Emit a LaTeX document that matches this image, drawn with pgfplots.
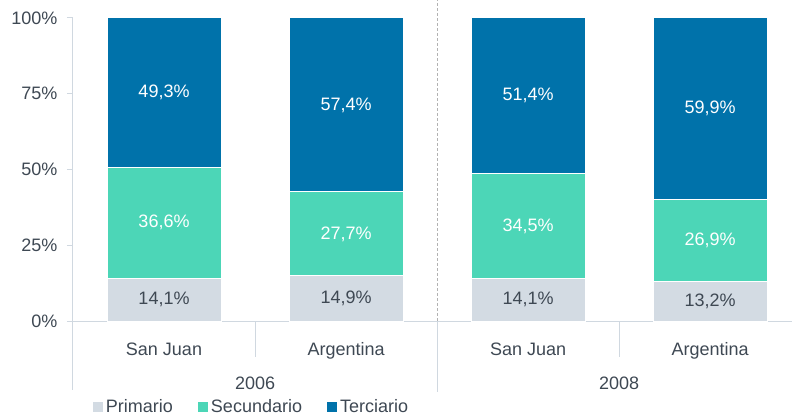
\documentclass[border=0pt]{standalone}
\usepackage{pgfplots}
\pgfplotsset{compat=1.18}
\usepackage{fontspec}
\setmainfont{Liberation Sans}
\definecolor{prim}{HTML}{D3DBE3}
\definecolor{secu}{HTML}{4CD6B7}
\definecolor{terc}{HTML}{0072AA}
\definecolor{txt}{HTML}{3E4853}
\definecolor{axl}{HTML}{D0D8E0}
\newcommand{\lf}{\fontsize{18}{20}\selectfont}
\begin{document}
\begin{tikzpicture}
\begin{axis}[
  at={(73pt,94pt)}, anchor=south west,
  scale only axis, width=719pt, height=303pt,
  xmin=-0.5, xmax=3.45, ymin=0, ymax=100,
  ybar stacked, bar width=114pt,
  axis x line=bottom, axis y line=left,
  axis line style={axl, line width=1pt, -},
  xtick={0,1,2,3}, xticklabels={San Juan,Argentina,San Juan,Argentina},
  ytick={0,25,50,75,100},
  yticklabels={0\%,25\%,50\%,75\%,100\%},
  x tick style={draw=none},
  y tick style={axl, line width=1pt},
  major tick length=6pt,
  tick align=outside,
  ticklabel style={font=\lf, text=txt},
  xticklabel style={anchor=base, yshift=-28pt},
  yticklabel style={xshift=-6pt},
  clip=false,
  legend columns=3,
  legend style={at={(0.2476,-0.284)}, anchor=center, draw=none, fill=none,
    font=\lf, text=txt,
    /tikz/every even column/.append style={column sep=22pt}},
  legend image code/.code={\fill[#1] (0pt,-5pt) rectangle (11pt,6pt);},
]
\addplot[fill=prim, draw=white, line width=1pt] coordinates {(0,14.1) (1,14.9) (2,14.1) (3,13.2)};
\addplot[fill=secu, draw=white, line width=1pt] coordinates {(0,36.6) (1,27.7) (2,34.5) (3,26.9)};
\addplot[fill=terc, draw=white, line width=1pt] coordinates {(0,49.3) (1,57.4) (2,51.4) (3,59.9)};
\legend{Primario,Secundario,Terciario}
\coordinate (p0) at (axis cs:0,7.05);
\coordinate (p1) at (axis cs:1,7.45);
\coordinate (p2) at (axis cs:2,7.05);
\coordinate (p3) at (axis cs:3,6.6);
\coordinate (s0) at (axis cs:0,32.4);
\coordinate (s1) at (axis cs:1,28.75);
\coordinate (s2) at (axis cs:2,31.35);
\coordinate (s3) at (axis cs:3,26.65);
\coordinate (t0) at (axis cs:0,75.35);
\coordinate (t1) at (axis cs:1,71.3);
\coordinate (t2) at (axis cs:2,74.3);
\coordinate (t3) at (axis cs:3,70.05);
\node[text=txt, anchor=base, font=\lf, yshift=-68pt] at (axis cs:0.5,0) {2006};
\node[text=txt, anchor=base, font=\lf, yshift=-68pt] at (axis cs:2.5,0) {2008};
\draw[axl, line width=1pt] (axis cs:0.5,0) -- ++(0pt,-36pt);
\draw[axl, line width=1pt] (axis cs:2.5,0) -- ++(0pt,-36pt);
\draw[axl, line width=1pt] (axis cs:1.5,0) -- ++(0pt,-71pt);
\draw[axl, line width=1pt] (axis cs:-0.5,0) -- ++(0pt,-69pt);
\draw[gray!60, line width=0.8pt, dash pattern=on 3pt off 2pt] (axis cs:1.5,0) -- (axis cs:1.5,100) -- ++(0pt,18pt);
\end{axis}
\begin{scope}[every node/.style={font=\lf}]
\node[text=txt] at (p0) {14,1\%};
\node[text=txt] at (p1) {14,9\%};
\node[text=txt] at (p2) {14,1\%};
\node[text=txt] at (p3) {13,2\%};
\node[text=white] at (s0) {36,6\%};
\node[text=white] at (s1) {27,7\%};
\node[text=white] at (s2) {34,5\%};
\node[text=white] at (s3) {26,9\%};
\node[text=white] at (t0) {49,3\%};
\node[text=white] at (t1) {57,4\%};
\node[text=white] at (t2) {51,4\%};
\node[text=white] at (t3) {59,9\%};
\end{scope}
\pgfresetboundingbox
\path (0pt,0pt) rectangle (792pt,415pt);
\end{tikzpicture}
\end{document}
